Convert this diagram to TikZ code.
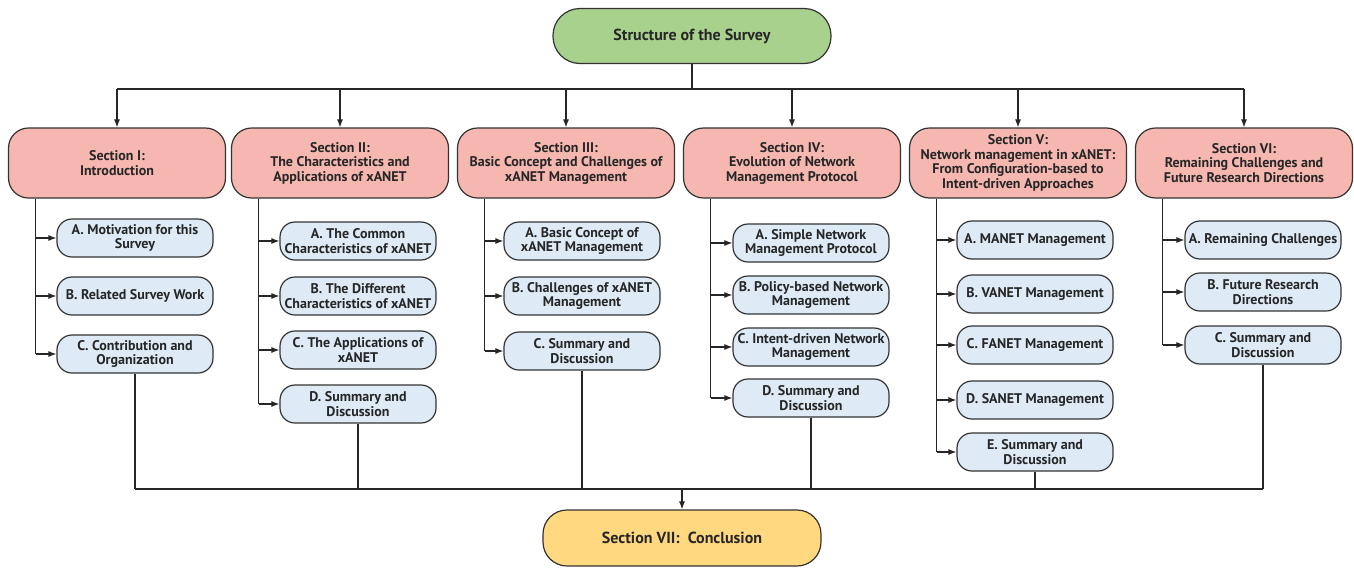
\documentclass[tikz,border=0pt]{standalone}
\usepackage{fontspec}
\setmainfont{PT Sans}
\usepackage{tikz}
\usetikzlibrary{arrows,arrows.meta,calc,positioning,shapes}
\definecolor{rootgreen}{RGB}{169,209,142}
\definecolor{secpink}{RGB}{245,183,176}
\definecolor{subblue}{RGB}{222,235,247}
\definecolor{concyellow}{RGB}{255,216,128}
\definecolor{gray20}{RGB}{51,51,51}
\newcommand{\subTrunkXX}[3]{
    \coordinate (T#1) at ($(SEC#1.south west)+(28,0)$);
    \draw[conn] (T#1) -- (T#1 |- #3.west);
    \foreach \c in {#2}
    {
        \draw[conn,->] (T#1 |- \c.west) -- (\c.west);
    }
}
\begin{document}
\begin{tikzpicture}[x=1pt,y=-1pt,>={Latex[length=8pt,width=6pt]}]
    \tikzstyle{boxtext}=[draw=gray20,line width=1.2pt,align=center,inner sep=2pt,%
    text=black!85,font=\fontsize{14}{14.5}\selectfont\bfseries] %
    \tikzstyle{rootnode}=[boxtext,rounded corners=27pt,fill=rootgreen,%
    minimum width=278pt,minimum height=55pt,font=\fontsize{16}{18}\selectfont\bfseries] %
    \tikzstyle{secnode}=[boxtext,rounded corners=20pt,fill=secpink,%
    minimum width=217pt,minimum height=70pt] %
    \tikzstyle{subnode}=[boxtext,rounded corners=15pt,fill=subblue,%
    minimum width=156pt,minimum height=38pt] %
    \tikzstyle{concnode}=[boxtext,rounded corners=24pt,fill=concyellow,%
    minimum width=278pt,minimum height=56pt,font=\fontsize{16}{18}\selectfont\bfseries] %
    \tikzstyle{conn}=[draw=black!85,line width=1.1pt] %

    \useasboundingbox (0,0) rectangle (1354,568);

    \node[rootnode] (TOP) at (692, 36) {Structure of the Survey};

    \node[secnode] (SEC1) at (117, 163) {Section I:\\Introduction};
    \node[secnode] (SEC2) at (340, 163) {Section II:\\The Characteristics and\\Applications of xANET};
    \node[secnode] (SEC3) at (566, 163) {Section III:\\Basic Concept and Challenges of\\xANET Management};
    \node[secnode] (SEC4) at (792, 163) {Section IV:\\Evolution of Network\\Management Protocol};
    \node[secnode] (SEC5) at (1018, 163) {Section V:\\Network management in xANET:\\From Configuration-based to\\Intent-driven Approaches};
    \node[secnode] (SEC6) at (1244, 163) {Section VI:\\Remaining Challenges and\\Future Research Directions};

    \node[subnode] (S1A) at (135, 238) {A. Motivation for this\\Survey};
    \node[subnode] (S1B) at (135, 296) {B. Related Survey Work};
    \node[subnode] (S1C) at (135, 354) {C. Contribution and\\Organization};

    \node[subnode] (S2A) at (358, 241) {A. The Common\\Characteristics of xANET};
    \node[subnode] (S2B) at (358, 296) {B. The Different\\Characteristics of xANET};
    \node[subnode] (S2C) at (358, 350) {C. The Applications of\\xANET};
    \node[subnode] (S2D) at (358, 404) {D. Summary and\\Discussion};

    \node[subnode] (S3A) at (582, 241) {A. Basic Concept of\\xANET Management};
    \node[subnode] (S3B) at (582, 296) {B. Challenges of xANET\\Management};
    \node[subnode] (S3C) at (582, 351) {C. Summary and\\Discussion};

    \node[subnode] (S4A) at (811, 243) {A. Simple Network\\Management Protocol};
    \node[subnode] (S4B) at (811, 295) {B. Policy-based Network\\Management};
    \node[subnode] (S4C) at (811, 347) {C. Intent-driven Network\\Management};
    \node[subnode] (S4D) at (811, 398) {D. Summary and\\Discussion};

    \node[subnode] (S5A) at (1035, 240) {A. MANET Management};
    \node[subnode] (S5B) at (1035, 294) {B. VANET Management};
    \node[subnode] (S5C) at (1035, 345) {C. FANET Management};
    \node[subnode] (S5D) at (1035, 400) {D. SANET Management};
    \node[subnode] (S5E) at (1035, 452) {E. Summary and\\Discussion};

    \node[subnode] (S6A) at (1263, 240) {A. Remaining Challenges};
    \node[subnode] (S6B) at (1263, 292) {B. Future Research\\Directions};
    \node[subnode] (S6C) at (1263, 345) {C. Summary and\\Discussion};

    \node[concnode] (CONC) at (682, 538) {Section VII:\ \ Conclusion};

    %% top bus
    \coordinate (TBUS) at (0, 89);
    \draw[conn] (TOP.south) -- (TOP.south |- TBUS);
    \draw[conn] (SEC1.north |- TBUS) -- (SEC6.north |- TBUS);
    \foreach \s in {SEC1, SEC2, SEC3, SEC4, SEC5, SEC6}
    {
        \draw[conn,->] (\s.north |- TBUS) -- (\s.north);
    }

    %% sub-section trunks
    \subTrunkXX{1}{S1A, S1B, S1C}{S1C}
    \subTrunkXX{2}{S2A, S2B, S2C, S2D}{S2D}
    \subTrunkXX{3}{S3A, S3B, S3C}{S3C}
    \subTrunkXX{4}{S4A, S4B, S4C, S4D}{S4D}
    \subTrunkXX{5}{S5A, S5B, S5C, S5D, S5E}{S5E}
    \subTrunkXX{6}{S6A, S6B, S6C}{S6C}

    %% bottom bus
    \coordinate (BBUS) at (0, 489);
    \foreach \s in {S1C, S2D, S3C, S4D, S5E, S6C}
    {
        \draw[conn] (\s.south) -- (\s.south |- BBUS);
    }
    \draw[conn] (S1C.south |- BBUS) -- (S6C.south |- BBUS);
    \draw[conn,->] (CONC.north |- BBUS) -- (CONC.north);
\end{tikzpicture}
\end{document}
